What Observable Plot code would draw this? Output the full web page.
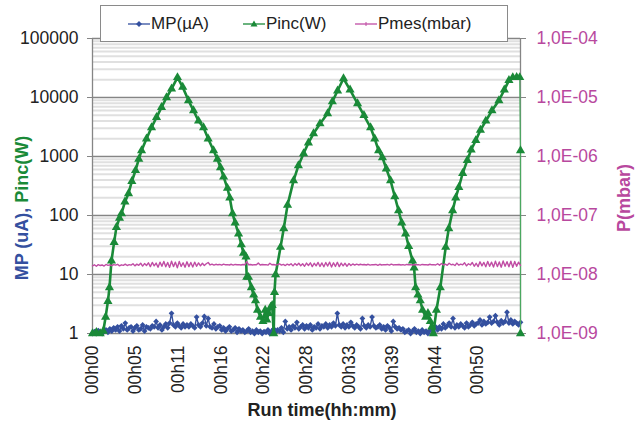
<!DOCTYPE html>
<html><head><meta charset="utf-8">
<script src="https://cdn.jsdelivr.net/npm/d3@7"></script>
<script src="https://cdn.jsdelivr.net/npm/@observablehq/plot@0.6"></script>
<style>
body{margin:0;background:#fff;}
#wrap{position:relative;width:642px;height:422px;font-family:"Liberation Sans",Arial,sans-serif;}
#legend{position:absolute;left:100px;top:5px;width:408px;height:37px;border:1px solid #8a8a8a;background:#fff;box-sizing:border-box;font-size:17px;color:#222;}
#legend .sym{position:absolute;top:12px;}
#legend .lab{position:absolute;top:8px;white-space:nowrap;}
</style></head>
<body><div id="wrap"><div id="chart"></div><div id="legend"></div></div>
<script>
// ---- data ----
const STEP = 0.25; // sampling interval (min) of MP and Pmes records
const mpValues = [
1.0,1.08,1.02,1.12,1.05,1.0,1.1,1.15,1.05,1.2,
1.1,1.25,1.15,1.3,1.1,1.35,1.2,1.5,1.15,1.25,
1.3,1.1,1.25,1.35,1.15,1.2,1.4,1.1,1.3,1.25,
1.2,1.35,1.3,1.6,1.25,1.4,1.15,1.3,1.45,1.25,
1.5,2.2,1.4,1.3,1.5,1.35,1.25,1.45,1.3,1.4,
1.3,1.45,1.35,1.25,1.9,1.4,1.3,1.5,1.95,1.35,
1.8,1.3,1.25,1.45,1.2,1.3,1.35,1.15,1.25,1.1,
1.2,1.3,1.1,1.15,1.25,1.05,1.2,1.1,1.15,1.05,
1.1,1.2,1.05,1.1,1.0,1.15,1.05,1.1,1.0,1.08,
1.05,1.15,1.0,1.1,1.2,1.05,1.15,1.1,1.25,1.05,
1.6,1.2,1.3,1.15,1.35,1.25,1.55,1.2,1.3,1.4,
1.2,1.35,1.25,1.4,1.15,1.3,1.25,1.45,1.2,1.35,
1.3,1.45,1.25,1.4,1.3,1.5,1.35,2.2,1.4,1.3,
1.45,1.25,1.4,1.3,1.55,1.35,1.25,1.4,1.3,1.2,
1.8,1.35,1.25,1.4,1.3,1.9,1.35,1.25,1.3,1.4,
1.2,1.3,1.15,1.35,1.25,1.1,1.6,1.3,1.2,1.25,
1.15,1.2,1.05,1.1,1.15,1.0,1.1,1.2,1.05,1.1,
1.0,1.15,1.05,1.1,1.0,1.12,1.2,1.05,1.3,1.15,
1.3,1.2,1.45,1.25,1.35,1.5,1.3,1.8,1.25,1.4,
1.3,1.45,1.35,1.25,1.5,1.3,1.4,1.55,1.35,1.45,
1.5,1.7,1.4,1.6,1.45,1.55,1.9,1.5,1.6,2.0,
1.55,1.4,1.65,1.5,1.6,2.3,1.5,1.7,1.45,1.6,
1.5,1.4,1.55];
const pmesValues = [
1.40e-8,1.46e-8,1.38e-8,1.47e-8,1.42e-8,1.45e-8,1.39e-8,1.48e-8,1.43e-8,1.46e-8,
1.41e-8,1.47e-8,1.44e-8,1.49e-8,1.40e-8,1.46e-8,1.43e-8,1.50e-8,1.42e-8,1.47e-8,
1.44e-8,1.52e-8,1.40e-8,1.50e-8,1.43e-8,1.55e-8,1.39e-8,1.53e-8,1.42e-8,1.58e-8,
1.36e-8,1.60e-8,1.40e-8,1.56e-8,1.33e-8,1.62e-8,1.38e-8,1.66e-8,1.35e-8,1.60e-8,
1.32e-8,1.68e-8,1.36e-8,1.62e-8,1.30e-8,1.66e-8,1.37e-8,1.58e-8,1.33e-8,1.64e-8,
1.36e-8,1.60e-8,1.34e-8,1.62e-8,1.38e-8,1.57e-8,1.40e-8,1.55e-8,1.42e-8,1.52e-8,
1.60e-8,1.45e-8,1.50e-8,1.44e-8,1.49e-8,1.46e-8,1.48e-8,1.44e-8,1.50e-8,1.46e-8,
1.47e-8,1.45e-8,1.49e-8,1.44e-8,1.48e-8,1.46e-8,1.47e-8,1.45e-8,1.48e-8,1.46e-8,
1.66e-8,1.46e-8,1.48e-8,1.45e-8,1.47e-8,1.46e-8,1.56e-8,1.45e-8,1.48e-8,1.46e-8,
1.47e-8,1.44e-8,1.55e-8,1.46e-8,1.48e-8,1.45e-8,1.47e-8,1.52e-8,1.44e-8,1.48e-8,
1.42e-8,1.50e-8,1.44e-8,1.52e-8,1.40e-8,1.53e-8,1.43e-8,1.55e-8,1.41e-8,1.52e-8,
1.38e-8,1.56e-8,1.42e-8,1.58e-8,1.36e-8,1.55e-8,1.40e-8,1.60e-8,1.37e-8,1.57e-8,
1.35e-8,1.60e-8,1.39e-8,1.62e-8,1.34e-8,1.58e-8,1.37e-8,1.61e-8,1.36e-8,1.56e-8,
1.40e-8,1.55e-8,1.38e-8,1.53e-8,1.42e-8,1.51e-8,1.44e-8,1.50e-8,1.45e-8,1.49e-8,
1.46e-8,1.48e-8,1.45e-8,1.49e-8,1.44e-8,1.47e-8,1.46e-8,1.48e-8,1.43e-8,1.49e-8,
1.45e-8,1.47e-8,1.46e-8,1.48e-8,1.44e-8,1.50e-8,1.45e-8,1.47e-8,1.46e-8,1.48e-8,
1.45e-8,1.47e-8,1.44e-8,1.48e-8,1.46e-8,1.47e-8,1.45e-8,1.48e-8,1.46e-8,1.47e-8,
1.44e-8,1.48e-8,1.46e-8,1.47e-8,1.45e-8,1.49e-8,1.46e-8,1.47e-8,1.45e-8,1.52e-8,
1.44e-8,1.54e-8,1.45e-8,1.50e-8,1.43e-8,1.55e-8,1.46e-8,1.49e-8,1.42e-8,1.56e-8,
1.44e-8,1.50e-8,1.46e-8,1.58e-8,1.40e-8,1.52e-8,1.45e-8,1.60e-8,1.38e-8,1.55e-8,
1.36e-8,1.64e-8,1.40e-8,1.60e-8,1.35e-8,1.66e-8,1.38e-8,1.62e-8,1.34e-8,1.68e-8,
1.36e-8,1.63e-8,1.33e-8,1.70e-8,1.38e-8,1.65e-8,1.35e-8,1.68e-8,1.32e-8,1.66e-8,
1.38e-8,1.62e-8,1.42e-8];
const pincTimes = [0,0.5,1.0,1.4,1.7,2.0,2.2,2.46,2.8,3.1,3.5,3.76,4.2,4.67,5.1,5.58,6.0,6.36,7.0,7.65,8.3,8.95,9.6,10.25,11.02,
11.7,12.45,13.1,13.75,14.4,15.0,15.7,16.2,16.6,17.0,17.5,17.8,18.16,18.5,18.94,19.3,19.58,19.9,20.0,20.23,20.6,20.9,21.14,21.4,21.79,22.1,22.4,22.6,22.83,23.1,23.3,23.5,
23.6,23.74,24.38,24.8,25.29,26.07,26.7,27.37,28.0,28.66,29.5,30.48,31.1,31.78,32.55,
33.4,34.37,35.2,36.06,36.6,37.1,37.6,38.1,38.65,39.2,39.69,40.1,40.6,41.0,41.5,41.7,41.9,42.2,42.5,42.8,43.2,43.5,43.8,44.0,44.2,
44.6,45.1,45.8,46.2,46.7,47.1,47.5,48.0,48.6,49.1,49.7,50.3,51.0,51.8,52.7,53.4,54.0,54.5,55.0,55.4,55.5,55.5];
const pincValues = [1.0,1.05,1.0,1.1,1.9,3.5,6,17,35,63,90,108,170,236,380,580,900,1260,2000,3100,4600,6800,10000,14000,21900,
15000,8900,6000,4000,3100,2000,1260,900,650,450,290,200,108,75,49,32,23,20,9,9,6,4.5,3.6,2.5,1.9,1.6,2.5,1.7,2.2,2.8,3.0,1.0,
5,10,29,60,150,390,700,1120,1700,2450,3600,5350,8500,13000,21000,
13500,7900,5000,3100,2000,1260,960,620,390,210,121,75,49,30,17,13,6,4.5,3.6,2.5,1.9,2.2,1.6,1.3,1.0,
2.5,6,29,60,121,200,300,520,860,1300,1870,2800,4000,6000,8900,13500,19500,21900,22000,21900,1260,1.0];
const timeTicks = [0,5.55,11.1,16.65,22.2,27.75,33.3,38.85,44.4,49.95];
const timeLabels = ["00h00","00h05","00h11","00h16","00h22","00h28","00h33","00h39","00h44","00h50"];
const leftTicks = [1,10,100,1000,10000,100000];
const leftLabels = ["1","10","100","1000","10000","100000"];
const rightLabels = ["1,0E-09","1,0E-08","1,0E-07","1,0E-06","1,0E-05","1,0E-04"];
const PRESSURE_FACTOR = 1e9; // 1,0E-09 mbar on the right axis lines up with 1 on the left axis
const T_END = 55.5;

const BLUE = "#34509f", GREEN = "#1a8a38", PINK = "#c04da4", PINKTXT = "#b8489e";

const mp = mpValues.map((v, i) => ({t: i * STEP, v}));
const pmes = pmesValues.map((v, i) => ({t: i * STEP, v: v * PRESSURE_FACTOR}));
const pinc = pincTimes.map((t, i) => ({t, v: pincValues[i]}));
const minorTicks = leftTicks.slice(0, -1).flatMap(d => [2,3,4,5,6,7,8,9].map(m => d * m));

const chart = Plot.plot({
  width: 642, height: 422,
  marginLeft: 92, marginRight: 122, marginTop: 38, marginBottom: 89,
  x: {domain: [0, T_END]},
  y: {type: "log", domain: [1, 100000]},
  style: {fontFamily: "'Liberation Sans', Arial, sans-serif", fontSize: "17.5px", color: "#222", background: "#fff"},
  marks: [
    Plot.ruleY(minorTicks, {stroke: "#e0e0e0", strokeWidth: 2}),
    Plot.ruleY(leftTicks, {stroke: "#858585", strokeWidth: 1.3}),
    Plot.ruleX([0, T_END], {stroke: "#858585", strokeWidth: 1.3}),
    Plot.axisY({ticks: leftTicks, tickFormat: d => leftLabels[leftTicks.indexOf(d)], tickSize: 5, tickPadding: 9, stroke: "#858585", fill: "#222", label: null}),
    Plot.axisY({anchor: "right", ticks: leftTicks, tickFormat: d => rightLabels[leftTicks.indexOf(d)], tickSize: 5, tickPadding: 11, stroke: "#858585", fill: PINKTXT, label: null}),
    Plot.axisX({ticks: timeTicks, tickFormat: d => timeLabels[timeTicks.indexOf(d)], tickRotate: -90, tickSize: 0, tickPadding: 12, fill: "#222", label: null}),
    Plot.line(mp, {x: "t", y: "v", stroke: BLUE, strokeWidth: 1.4}),
    Plot.dot(mp, {x: "t", y: "v", symbol: "diamond2", r: 2.6, fill: BLUE, stroke: "none"}),
    Plot.line(pinc.slice(0, -2), {x: "t", y: "v", stroke: GREEN, strokeWidth: 2.6}),
    Plot.line(pinc.slice(-3), {x: "t", y: "v", stroke: "#4aa860", strokeWidth: 1.2}),
    Plot.dot(pinc, {x: "t", y: "v", symbol: "triangle", r: 3.4, fill: GREEN, stroke: "none"}),
    Plot.line(pmes, {x: "t", y: "v", stroke: PINK, strokeWidth: 1.4})
  ]
});
document.getElementById("chart").appendChild(chart);

// axis titles
const svg = d3.select(chart);
const lt = svg.append("text").attr("transform", "translate(28,208) rotate(-90)")
  .attr("text-anchor", "middle").attr("font-weight", "bold").attr("font-size", 18);
lt.append("tspan").attr("fill", BLUE).text("MP (uA), ");
lt.append("tspan").attr("fill", GREEN).text("Pinc(W)");
svg.append("text").attr("transform", "translate(630,198) rotate(-90)")
  .attr("text-anchor", "middle").attr("font-weight", "bold").attr("font-size", 18)
  .attr("fill", PINKTXT).text("P(mbar)");
svg.append("text").attr("x", 322).attr("y", 416).attr("text-anchor", "middle")
  .attr("font-weight", "bold").attr("font-size", 18).attr("fill", "#222").text("Run time(hh:mm)");

// legend
const legendItems = [
  {name: "MP(µA)", color: BLUE, sym: "diamond", left: 27},
  {name: "Pinc(W)", color: GREEN, sym: "triangle", left: 142},
  {name: "Pmes(mbar)", color: PINK, sym: "tick", left: 254}
];
const lg = d3.select("#legend");
legendItems.forEach(it => {
  const s = lg.append("svg").attr("class", "sym").attr("width", 22).attr("height", 12).style("left", it.left + "px");
  s.append("line").attr("x1", 0).attr("x2", 22).attr("y1", 6).attr("y2", 6).attr("stroke", it.color).attr("stroke-width", 1.3);
  if (it.sym === "diamond") s.append("path").attr("d", "M11,3L14,6L11,9L8,6Z").attr("fill", it.color);
  else if (it.sym === "triangle") s.append("path").attr("d", "M11,2.5L14.5,8.5L7.5,8.5Z").attr("fill", it.color);
  else s.append("line").attr("x1", 11).attr("x2", 11).attr("y1", 4).attr("y2", 8).attr("stroke", it.color);
  lg.append("span").attr("class", "lab").style("left", (it.left + 23) + "px").text(it.name);
});
</script>
</body></html>
